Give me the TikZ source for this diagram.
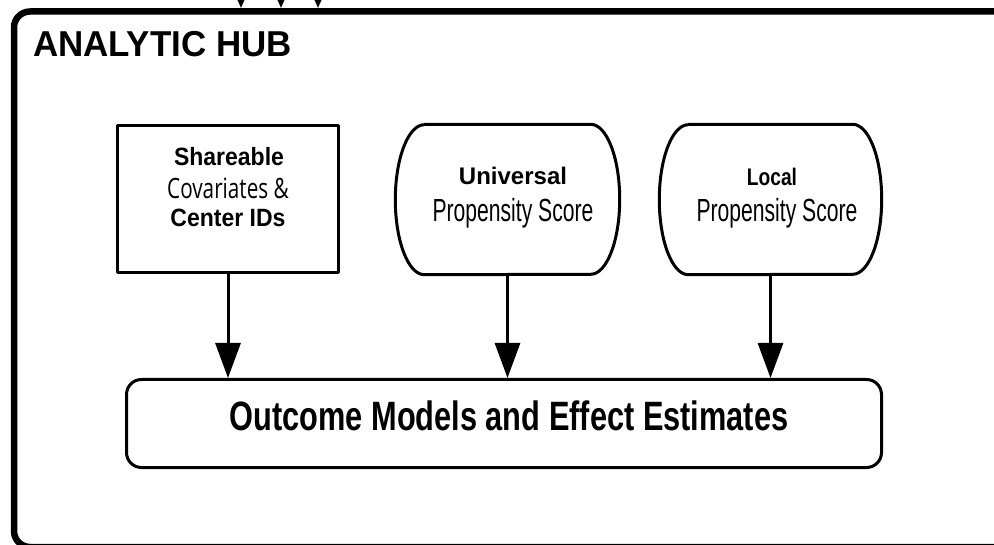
\documentclass[tikz,border=0pt]{standalone}
\usepackage{fontspec}
\setmainfont{Liberation Sans}
\newfontfamily\lsLocal[FakeStretch=0.8]{Liberation Sans}
\newfontfamily\lsBold[FakeStretch=0.92]{Liberation Sans}
\newfontfamily\lsHub[FakeStretch=0.97]{Liberation Sans}
\newfontfamily\lsPS[FakeStretch=0.66]{Liberation Sans}
\newfontfamily\lsOut[FakeStretch=0.75]{Liberation Sans}
\newfontfamily\condsans[FakeStretch=0.74]{Open Sans}
\usetikzlibrary{arrows.meta}
\begin{document}
\begin{tikzpicture}[x=1pt,y=-1pt, line join=round,
  boxline/.style={line width=3pt},
  txt/.style={inner sep=0pt, anchor=base},
  flow/.style={line width=3pt, -{Triangle[length=35pt,width=25pt]}},
  inarrow/.style={line width=2pt, -{Triangle[length=12pt,width=10pt]}},
  shell/.style={shape=rectangle, inner sep=0pt}]
\useasboundingbox (0,0) rectangle (994,545);
\clip (0,0) rectangle (994,545);
% outer hub frame
\draw[line width=6.5pt, rounded corners=16pt] (14,11.5) rectangle (1012,547);
% incoming arrows from above
\coordinate (a1s) at (241,-30); \coordinate (a1) at (241,8);
\coordinate (a2s) at (281,-30); \coordinate (a2) at (281,8);
\coordinate (a3s) at (318,-30); \coordinate (a3) at (318,8);
\draw[inarrow] (a1s) -- (a1);
\draw[inarrow] (a2s) -- (a2);
\draw[inarrow] (a3s) -- (a3);
% title
\node[txt, anchor=base west, font=\lsHub\bfseries\fontsize{36}{36}\selectfont] (hub) at (33,57) {ANALYTIC HUB};
% boxes
\node[shell, draw, boxline, minimum width=221pt, minimum height=147pt] (sh) at (228,199) {};
\node[shell, minimum width=224pt, minimum height=150pt] (u) at (507.5,199.5) {};
\node[shell, minimum width=222pt, minimum height=150pt] (l) at (770.5,199.5) {};
\node[shell, draw, boxline, rounded corners=15pt, minimum width=755pt, minimum height=88pt] (out) at (504,423.5) {};
\foreach \n in {u,l}{
  \draw[boxline] ([xshift=29pt]\n.north west) -- ([xshift=-29pt]\n.north east)
    arc[start angle=90,end angle=-90,x radius=29pt,y radius=75pt]
    -- ([xshift=29pt]\n.south west)
    arc[start angle=270,end angle=90,x radius=29pt,y radius=75pt] -- cycle;
}
% texts
\node[txt, font=\lsBold\bfseries\fontsize{25}{25}\selectfont] (sh1) at (229,166) {Shareable};
\node[txt, font=\condsans\fontsize{28}{28}\selectfont] (sh2) at (228,199) {Covariates \&};
\node[txt, font=\lsBold\bfseries\fontsize{25}{25}\selectfont] (sh3) at (228,227) {Center IDs};
\node[txt, font=\bfseries\fontsize{24}{24}\selectfont] (u1) at (513,185) {Universal};
\node[txt, font=\lsPS\fontsize{32}{32}\selectfont] (u2) at (513,222) {Propensity Score};
\node[txt, font=\lsLocal\bfseries\fontsize{24}{24}\selectfont] (l1) at (772,186) {Local};
\node[txt, font=\lsPS\fontsize{32}{32}\selectfont] (l2) at (777,222) {Propensity Score};
\node[txt, font=\lsOut\bfseries\fontsize{41}{41}\selectfont] (o1) at (509,431) {Outcome Models and Effect Estimates};
% connectors
\draw[flow] (sh.south) -- (sh.south |- out.north);
\draw[flow] (u.south) -- (u.south |- out.north);
\draw[flow] (l.south) -- (l.south |- out.north);
\end{tikzpicture}
\end{document}
